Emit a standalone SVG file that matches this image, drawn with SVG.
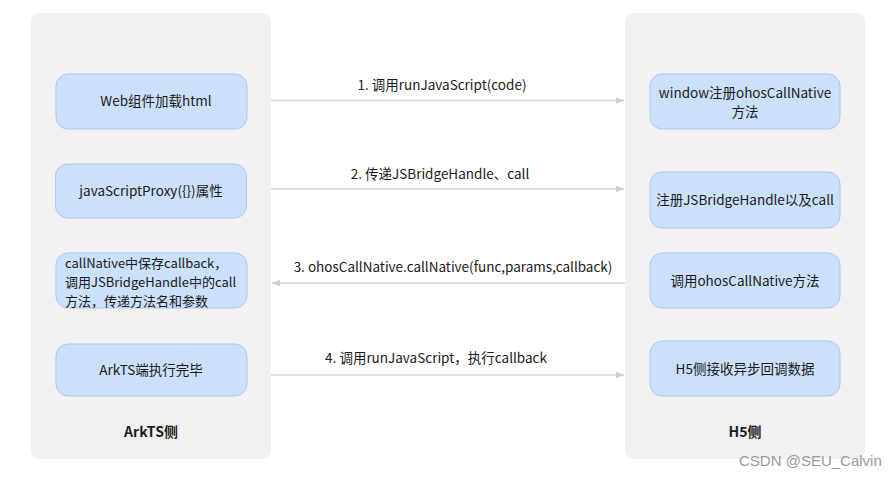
<svg xmlns="http://www.w3.org/2000/svg" width="893" height="477" viewBox="0 0 893 477">
<style>
text{font-family:"Noto Sans CJK SC","Noto Sans",sans-serif;fill:#1a1a1a;font-size:13.5px}
.panel{fill:#f1f1f1}
.box{fill:#cbe0fa;stroke:#a9c9ef;stroke-width:1}
.c{text-anchor:middle}
.t{font-weight:bold;font-size:14px}
.m{font-size:13px}
.edge{stroke:#d6d6d6;stroke-width:1.3;fill:none}
.wm{fill:#9a9a9a;font-family:"Liberation Sans",sans-serif;font-size:15px}
</style>
<defs>
<marker id="ah" viewBox="0 0 10 10" refX="10" refY="5" markerWidth="8" markerHeight="8" orient="auto" markerUnits="userSpaceOnUse">
<path d="M0,1 L10,5 L0,9 Z" fill="#cfcfcf"/>
</marker>
</defs>
<rect width="893" height="477" fill="#ffffff"/>
<g id="panel-arkts">
<rect class="panel" x="31" y="13" width="240" height="446" rx="9"/>
<text class="c t" x="151" y="437">ArkTS侧</text>
</g>
<g id="panel-h5">
<rect class="panel" x="625" y="13" width="240" height="446" rx="9"/>
<text class="c t" x="745" y="437">H5侧</text>
</g>
<g id="n-web">
<rect class="box" x="56" y="74" width="191" height="55" rx="12"/>
<text class="c" x="156" y="106">Web组件加载html</text>
</g>
<g id="n-proxy">
<rect class="box" x="55.5" y="164" width="191" height="54" rx="12"/>
<text class="c" x="151" y="196">javaScriptProxy({})属性</text>
</g>
<g id="n-callnative">
<rect class="box" x="56" y="253" width="191" height="55" rx="12"/>
<text class="m" x="65" y="268">callNative中保存callback，</text>
<text class="m" x="65" y="287">调用JSBridgeHandle中的call</text>
<text class="m" x="65" y="306">方法，传递方法名和参数</text>
</g>
<g id="n-done">
<rect class="box" x="56" y="344" width="191" height="52" rx="12"/>
<text class="c" x="151" y="375">ArkTS端执行完毕</text>
</g>
<g id="n-window">
<rect class="box" x="650" y="74" width="190" height="55" rx="12"/>
<text class="c" x="745" y="98">window注册ohosCallNative</text>
<text class="c" x="745" y="117">方法</text>
</g>
<g id="n-register">
<rect class="box" x="650" y="172" width="190" height="56" rx="12"/>
<text class="c" x="745" y="205">注册JSBridgeHandle以及call</text>
</g>
<g id="n-invoke">
<rect class="box" x="650" y="253" width="190" height="55" rx="12"/>
<text class="c" x="745" y="286">调用ohosCallNative方法</text>
</g>
<g id="n-receive">
<rect class="box" x="650" y="341" width="190" height="55" rx="12"/>
<text class="c" x="745" y="374">H5侧接收异步回调数据</text>
</g>
<g id="connectors">
<line class="edge" x1="271" y1="100.5" x2="624" y2="100.5" marker-end="url(#ah)"/>
<line class="edge" x1="271" y1="189" x2="624" y2="189" marker-end="url(#ah)"/>
<line class="edge" x1="625" y1="283" x2="272" y2="283" marker-end="url(#ah)"/>
<line class="edge" x1="271" y1="375" x2="624" y2="375" marker-end="url(#ah)"/>
<text class="c" x="442" y="90">1. 调用runJavaScript(code)</text>
<text class="c" x="440" y="179">2. 传递JSBridgeHandle、call</text>
<text class="c" x="453" y="272">3. ohosCallNative.callNative(func,params,callback)</text>
<text class="c" x="436" y="363">4. 调用runJavaScript，执行callback</text>
</g>
<text class="wm" x="739" y="466">CSDN @SEU_Calvin</text>
</svg>
